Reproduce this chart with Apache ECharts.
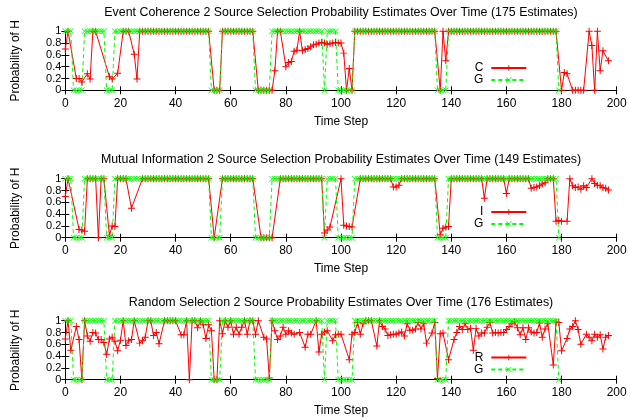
<!DOCTYPE html>
<html><head><meta charset="utf-8">
<script src="https://cdn.jsdelivr.net/npm/echarts@6/dist/echarts.min.js"></script>
<style>html,body{margin:0;padding:0;background:#fff}#c{width:630px;height:419px}</style>
</head><body><div id="c"></div>
<script>
// Time step index = position in array (0..199); null = no estimate at that step
const ground = [
1,1,1,0,0,0,0,1,1,1,1,1,1,1,1,0,0,0,1,1,
1,1,1,1,1,1,1,1,1,1,1,1,1,1,1,1,1,1,1,1,
1,1,1,1,1,1,1,1,1,1,1,1,1,0,0,0,0,1,1,1,
1,1,1,1,1,1,1,1,1,0,0,0,0,0,0,1,1,1,1,1,
1,1,1,1,1,1,1,1,1,1,1,1,1,1,0,1,1,1,1,0,
0,0,0,0,0,1,1,1,1,1,1,1,1,1,1,1,1,1,1,1,
1,1,1,1,1,1,1,1,1,1,1,1,1,1,1,0,0,0,0,1,
1,1,1,1,1,1,1,1,1,1,1,1,1,1,1,1,1,1,1,1,
1,1,1,1,1,1,1,1,1,1,1,1,1,1,1,1,1,1,1,0
];
const coherence = [
0.7,1,null,null,0.2,0.2,0.14,null,0.28,0.19,1,1,null,null,null,null,0.23,0.19,null,0.29,
null,1,1,1,null,0.61,0.19,1,1,1,1,1,1,1,1,1,1,1,1,1,
1,1,1,1,1,1,1,1,1,1,1,1,1,null,0,0,0,1,1,1,
1,1,1,1,1,1,1,1,1,null,0,0,0,0,0,0,0.33,1,1,null,
0.4,0.47,0.49,0.66,0.68,1,0.67,0.69,0.71,0.74,0.77,0.78,0.8,0.81,0.8,0.78,0.79,0.8,0.81,0.8,
0.8,0.63,0,0.37,0,1,1,1,1,1,1,1,1,1,1,1,1,1,1,1,
1,1,1,1,1,1,1,1,1,1,1,1,1,1,1,null,0,1,0.5,1,
1,1,1,1,1,1,1,1,1,1,1,1,1,1,1,1,1,1,1,1,
1,1,1,1,1,1,1,1,1,1,1,1,1,1,1,1,1,1,1,null,
0,0.3,0.28,null,0,0,0,0,0,null,1,0.76,0,1,0.33,0.67,null,0.5,null,null
];
const mutualInfo = [
0.7,1,null,null,null,0.14,0.13,0.11,1,1,1,1,0,1,1,null,0.04,0.2,0.19,1,
1,1,1,null,0.5,null,null,null,1,1,1,1,1,1,1,1,1,1,1,1,
1,1,1,1,1,1,1,1,1,1,1,1,1,null,0,null,null,1,1,1,
1,1,1,1,1,1,1,1,1,null,null,0,0,0,0,0,null,null,1,1,
1,1,1,1,1,1,1,1,1,1,1,1,1,1,0.08,0.13,0.18,null,null,null,
1,0.21,0.2,0.19,0.18,null,null,1,1,1,1,1,1,1,1,1,1,1,1,0.86,
0.86,0.89,1,1,1,1,1,1,1,1,1,1,1,1,1,null,0.05,0.16,0.18,0.19,
1,1,1,1,1,1,1,1,1,1,1,1,0.67,1,1,1,1,1,1,1,
0.75,1,1,1,1,1,1,1,1,0.84,0.85,0.86,0.88,0.91,0.93,1,1,1,0.28,0.29,
0.28,null,0.28,1,0.88,0.85,0.86,0.82,0.88,0.85,null,1,0.92,0.89,0.88,0.85,0.84,0.81,null,null
];
const randomSel = [
0.69,1,0.5,null,0.9,0.68,0,1,0.74,0.65,0.8,0.79,0.68,0.68,0.63,0.43,0.69,0.72,0.65,0.49,
0.67,1,0.58,0.66,0.68,1,null,0.62,0.66,0.72,1,1,0.75,0.8,0.61,null,1,1,1,1,
1,null,0.76,0.76,1,0,1,1,0.88,1,0.93,0.7,0.93,0.83,0,0,1,0.78,1,0.89,
1,0.77,0.89,0.77,0.89,1,0.77,1,1,0.77,1,null,0.72,0.69,0.03,1,0.83,0.68,0.74,0.89,
0.77,0.83,0.79,0.77,null,0.8,null,0.55,0.77,0.77,null,1,0.47,0.77,0.81,0.83,null,0.66,0.76,0.77,
0.77,null,null,0.34,0.77,0.8,0.97,0.77,0.95,1,1,1,null,0.57,1,0.9,0.86,0.75,0.76,0.77,
0.77,0.79,0.81,0.74,0.95,0.84,0.84,0.86,0.97,0.86,0.95,0.62,null,0.79,0.97,0.02,0.78,0.79,null,0.34,
null,0.68,0.8,0.9,0.85,0.95,0.85,0.87,0.5,0.87,0.74,0.79,0.79,0.89,0.97,0.79,0.8,0.79,0.8,0.8,
0.85,0.9,0.95,0.98,0.88,0.76,0.88,0.68,0.88,0.81,0.79,0.8,0.96,0.72,0.86,0.95,null,0.25,0.98,0.97,
0.49,null,0.7,0.86,0.9,1,0.85,0.6,null,0.77,0.72,0.66,0.77,0.72,0.76,0.52,0.72,0.75,null,null
];
const titles = [
'Event Coherence 2 Source Selection Probability Estimates Over Time (175 Estimates)',
'Mutual Information 2 Source Selection Probability Estimates Over Time (149 Estimates)',
'Random Selection 2 Source Probability Estimates Over Time (176 Estimates)'
];
const seriesNames = ['C','I','R'];
const estimateSets = [coherence, mutualInfo, randomSel];
const xName = 'Time Step';
const yName = 'Probability of H';

// layout
const FONT = "'Liberation Sans', Arial, Helvetica, sans-serif";
const gridTops = [31.3, 178.7, 320.7];
const titleTops = [6.5, 153.5, 296.5];
const legendTops = [61.9, 205.9, 351.5];
const PLUS = 'path://M0,4.3H10V5.7H0Z M4.3,0H5.7V10H4.3Z';
const CROSS = 'path://M0,0.8L0.8,0L10,9.2L9.2,10Z M9.2,0L10,0.8L0.8,10L0,9.2Z';

function pts(arr){ const out=[]; arr.forEach((v,i)=>{ if(v!==null) out.push([i,v]); }); return out; }
const txt = {color:'#000', fontSize:12, fontFamily:FONT};
const ytxt = {color:'#000', fontSize:11, fontFamily:FONT};

const grid=[], xAxis=[], yAxis=[], series=[], title=[], legend=[];
for (let g=0; g<3; g++){
  grid.push({left:65.3, top:gridTops[g], width:551.4, height:59, containLabel:false});
  const axLine = {show:true, lineStyle:{color:'#000', width:1}};
  const tick = {show:true, inside:true, length:4, lineStyle:{color:'#000', width:1}};
  xAxis.push({gridIndex:g, type:'value', min:0, max:200, interval:20, position:'bottom',
    axisLine:axLine, axisTick:tick, splitLine:{show:false},
    axisLabel:Object.assign({margin:7}, txt),
    name:xName, nameLocation:'middle', nameGap:25, nameTextStyle:txt});
  xAxis.push({gridIndex:g, type:'value', min:0, max:200, interval:20, position:'top',
    axisLine:axLine, axisTick:tick, splitLine:{show:false}, axisLabel:{show:false}});
  yAxis.push({gridIndex:g, type:'value', min:0, max:1, interval:0.2, position:'left',
    axisLine:axLine, axisTick:tick, splitLine:{show:false},
    axisLabel:Object.assign({margin:4}, ytxt),
    name:yName, nameLocation:'middle', nameGap:44, nameTextStyle:txt});
  yAxis.push({gridIndex:g, type:'value', min:0, max:1, interval:0.2, position:'right',
    axisLine:axLine, axisTick:tick, splitLine:{show:false}, axisLabel:{show:false}});
  title.push({text:titles[g], left:341, top:titleTops[g], textAlign:'center', padding:0,
    textStyle:{color:'#000', fontSize:12.4, fontWeight:'normal', fontFamily:FONT}});
  legend.push({data:[seriesNames[g],'G'], orient:'vertical', right:102.7, top:legendTops[g],
    align:'right', itemWidth:35, itemHeight:7, itemGap:0, padding:0, selectedMode:false,
    textStyle:Object.assign({lineHeight:11.6, padding:[0,3,0,0]}, txt)});
  series.push({type:'line', name:seriesNames[g], xAxisIndex:2*g, yAxisIndex:2*g,
    data:pts(estimateSets[g]), symbol:PLUS, symbolSize:7, clip:false,
    lineStyle:{color:'#ff0000', width:1}, itemStyle:{color:'#ff0000'}, emphasis:{disabled:true}});
  series.push({type:'line', name:'G', xAxisIndex:2*g, yAxisIndex:2*g,
    data:pts(ground), symbol:CROSS, symbolSize:6, clip:false,
    lineStyle:{color:'#00ff00', width:1, type:[4,3]}, itemStyle:{color:'#00ff00'}, emphasis:{disabled:true}});
}
const chart = echarts.init(document.getElementById('c'), null, {renderer:'canvas'});
chart.setOption({animation:false, backgroundColor:'#fff', grid, xAxis, yAxis, series, title, legend});
</script>
</body></html>
